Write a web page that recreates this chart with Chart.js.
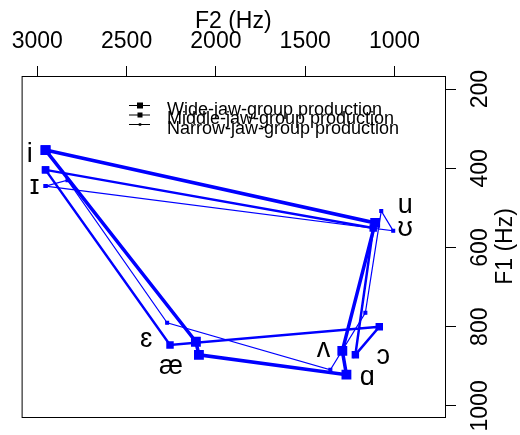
<!DOCTYPE html>
<html>
<head>
<meta charset="utf-8">
<script src="https://cdn.jsdelivr.net/npm/chart.js@4"></script>
<style>
  html, body { margin: 0; padding: 0; background: #fff; }
  #wrap { width: 520px; height: 435px; }
</style>
</head>
<body>
<div id="wrap"><canvas id="vowelChart" width="520" height="435"></canvas></div>
<script>
const ctx = document.getElementById('vowelChart').getContext('2d');

// Formant values (Hz), polygon order, one list per jaw group
const wideF2   = [2954, 2112, 2095, 1269, 1292, 1108, 2954];
const wideF1   = [354, 838, 871, 921, 861, 538, 354];
const middleF2 = [2954, 2257, 1085, 1219, 1119, 2954];
const middleF1 = [404, 846, 800, 871, 551, 404];
const narrowF2 = [2954, 2831, 2273, 1359, 1163, 1074, 1007, 2954];
const narrowF1 = [445, 430, 790, 909, 765, 508, 558, 445];

// Vowel labels and where they sit (Hz)
const vowels  = ['i', 'ɪ', 'u', 'ʊ', 'ɛ', 'æ', 'ʌ', 'ɔ', 'ɑ'];
const vowelF2 = [3043, 3015, 940, 940, 2390, 2251, 1398, 1063, 1152];
const vowelF1 = [366, 445, 493, 551, 833, 901, 858, 876, 929];

// Axis ticks
const f2Ticks = [3000, 2500, 2000, 1500, 1000];
const f1Ticks = [200, 400, 600, 800, 1000];

const groupNames = ['Wide-jaw-group production', 'Middle-jaw-group production', 'Narrow-jaw-group production'];

function toPoints(xs, ys) {
    return xs.map((x, i) => ({ x: x, y: ys[i] }));
}

const blue = '#0000ff';
const fontFamily = '"Liberation Sans", Arial, sans-serif';

// frame, right-hand axis text, vowel symbols and legend
const extras = {
    id: 'extras',
    afterDraw(chart) {
        const c = chart.ctx;
        const a = chart.chartArea;
        const xs = chart.scales.x;
        const ys = chart.scales.y;
        c.save();
        c.strokeStyle = '#000';
        c.lineWidth = 1;
        c.strokeRect(a.left + 0.5, a.top + 0.5, a.right - a.left, a.bottom - a.top);

        c.fillStyle = '#000';
        c.textAlign = 'center';
        c.textBaseline = 'middle';

        // F1 tick labels and title, reading bottom to top
        c.font = '23px ' + fontFamily;
        f1Ticks.forEach(v => {
            c.save();
            c.translate(481, ys.getPixelForValue(v));
            c.rotate(-Math.PI / 2);
            c.fillText(String(v), 0, 0);
            c.restore();
        });
        c.save();
        c.translate(506, (a.top + a.bottom) / 2);
        c.rotate(-Math.PI / 2);
        c.fillText('F1 (Hz)', 0, 0);
        c.restore();

        c.font = '27px ' + fontFamily;
        vowels.forEach((v, i) => {
            c.fillText(v, xs.getPixelForValue(vowelF2[i]), ys.getPixelForValue(vowelF1[i]));
        });

        // legend
        const sizes = [6, 5, 2.5];
        c.font = '18px ' + fontFamily;
        c.textAlign = 'left';
        c.lineWidth = 1;
        groupNames.forEach((name, i) => {
            const ty = 110 + i * 9.5;
            const sy = ty - 4.5;
            c.beginPath();
            c.moveTo(129, sy);
            c.lineTo(150, sy);
            c.stroke();
            c.fillRect(140 - sizes[i] / 2, sy - sizes[i] / 2, sizes[i], sizes[i]);
            c.fillText(name, 167, ty);
        });
        c.restore();
    }
};

const config = {
    type: 'scatter',
    data: {
        datasets: [
            {
                label: groupNames[0],
                data: toPoints(wideF2, wideF1),
                showLine: true,
                borderColor: blue,
                backgroundColor: blue,
                borderWidth: 3.5,
                pointStyle: 'rect',
                pointRadius: 4.5
            },
            {
                label: groupNames[1],
                data: toPoints(middleF2, middleF1),
                showLine: true,
                borderColor: blue,
                backgroundColor: blue,
                borderWidth: 2.5,
                pointStyle: 'rect',
                pointRadius: 3.5
            },
            {
                label: groupNames[2],
                data: toPoints(narrowF2, narrowF1),
                showLine: true,
                borderColor: blue,
                backgroundColor: blue,
                borderWidth: 1.2,
                pointStyle: 'rect',
                pointRadius: 2
            }
        ]
    },
    options: {
        responsive: false,
        animation: false,
        layout: { padding: { left: 20, bottom: 18, top: 0, right: 0 } },
        plugins: {
            legend: { display: false },
            tooltip: { enabled: false }
        },
        scales: {
            x: {
                type: 'linear',
                position: 'top',
                reverse: true,
                min: 717,
                max: 3088,
                afterBuildTicks: s => { s.ticks = f2Ticks.map(v => ({ value: v })); },
                afterFit: s => { s.height = 76; },
                grid: { drawOnChartArea: false, tickLength: 10, color: '#000' },
                border: { display: false },
                ticks: {
                    color: '#000',
                    padding: 11,
                    maxRotation: 0,
                    callback: v => String(v),
                    font: { family: fontFamily, size: 23 }
                },
                title: {
                    display: true,
                    text: 'F2 (Hz)',
                    color: '#000',
                    padding: 0,
                    font: { family: fontFamily, size: 23, lineHeight: 1.9 }
                }
            },
            y: {
                type: 'linear',
                position: 'right',
                reverse: true,
                min: 167,
                max: 1028,
                afterBuildTicks: s => { s.ticks = f1Ticks.map(v => ({ value: v })); },
                afterFit: s => { s.width = 75; },
                grid: { drawOnChartArea: false, tickLength: 11, color: '#000' },
                border: { display: false },
                ticks: { display: false }
            }
        }
    },
    plugins: [extras]
};

const vowelChart = new Chart(ctx, config);
</script>
</body>
</html>
